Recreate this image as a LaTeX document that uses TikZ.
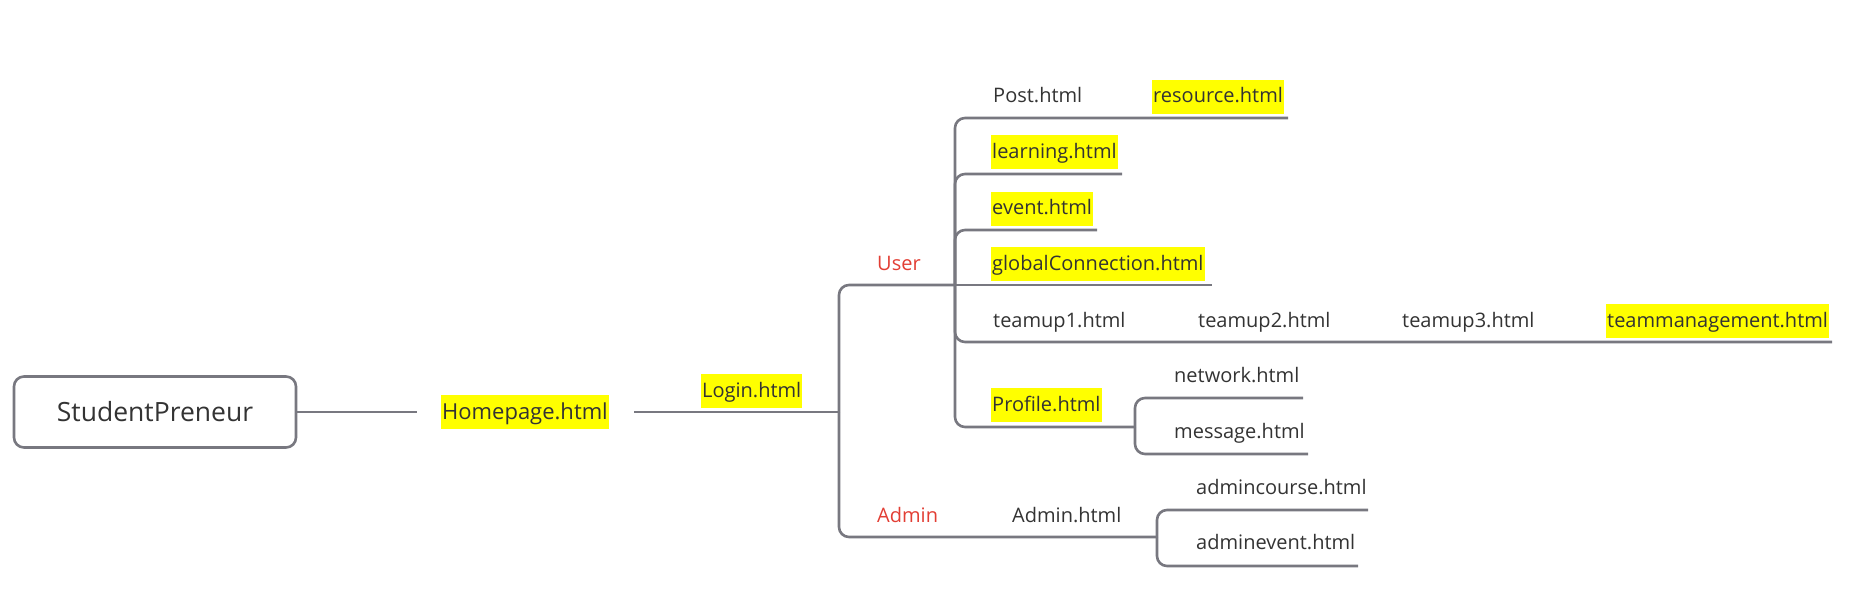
\documentclass[tikz,border=0pt]{standalone}
\usepackage{fontspec}
\setmainfont{Open Sans}
\definecolor{lc}{RGB}{120,120,128}
\definecolor{tc}{RGB}{51,51,51}
\definecolor{rc}{RGB}{226,62,52}
\definecolor{hly}{RGB}{255,255,0}
\begin{document}
\begin{tikzpicture}[x=1pt,y=-1pt,
  conn/.style={draw=lc, line width=2.6pt, rounded corners=10pt},
  lbl/.style={anchor=west, inner xsep=1pt, inner ysep=0pt, minimum height=34pt,
    text height=15pt, text depth=3pt, font=\fontsize{20}{24}\selectfont, text=tc},
  hlbl/.style={lbl, fill=hly},
  rlbl/.style={lbl, text=rc}]
\useasboundingbox (0,0) rectangle (1856,604);

% root
\node[draw=lc, line width=2.6pt, rounded corners=10pt, minimum width=282pt,
  minimum height=71pt, font=\fontsize{26.5}{30}\selectfont, text=tc] (root) at (155,412) {StudentPreneur};
\coordinate (homeIn) at (417,412);
\draw[conn] (root.east) -- (homeIn);

% homepage
\node[hlbl, text height=17pt, font=\fontsize{22}{26}\selectfont] (home) at (441,412) {Homepage.html};
\coordinate (homeOut) at (634,412);
\coordinate (loginJ) at (839,412);
\draw[conn] (homeOut) -- (loginJ);
\node[hlbl] (login) at (701,391) {Login.html};

% user / admin
\coordinate (userJ) at (955,285);
\coordinate (adminJ) at (1157,537);
\draw[conn] (loginJ) |- (userJ);
\draw[conn] (loginJ) |- (adminJ);
\node[rlbl] (user) at (876,264) {User};
\node[rlbl] (admin) at (876,516) {Admin};
\node[lbl] (adminh) at (1011,516) {Admin.html};

% user children
\coordinate (postE) at (1288,118);
\coordinate (learnE) at (1122,174);
\coordinate (eventE) at (1097,230);
\coordinate (globE) at (1212,285);
\coordinate (teamE) at (1832,342);
\coordinate (profJ) at (1135,427);
\draw[conn] (userJ) |- (postE);
\draw[conn] (userJ) |- (learnE);
\draw[conn] (userJ) |- (eventE);
\draw[conn] (userJ) -- (globE);
\draw[conn] (userJ) |- (teamE);
\draw[conn] (userJ) |- (profJ);

\node[lbl] (post) at (992,97) {Post.html};
\node[hlbl] (resource) at (1152,97) {resource.html};
\node[hlbl] (learning) at (991,152.5) {learning.html};
\node[hlbl] (event) at (991,209) {event.html};
\node[hlbl] (glob) at (991,264) {globalConnection.html};
\node[lbl] (team1) at (992,321) {teamup1.html};
\node[lbl] (team2) at (1197,321) {teamup2.html};
\node[lbl] (team3) at (1401,321) {teamup3.html};
\node[hlbl] (teamm) at (1606,321) {teammanagement.html};
\node[hlbl] (profile) at (991,405) {Profile.html};

% profile children
\coordinate (netE) at (1303,398);
\coordinate (msgE) at (1308,454);
\draw[conn] (profJ) |- (netE);
\draw[conn] (profJ) |- (msgE);
\node[lbl] (network) at (1173,376) {network.html};
\node[lbl] (message) at (1173,432) {message.html};

% admin children
\coordinate (acE) at (1368,510);
\coordinate (aeE) at (1358,566);
\draw[conn] (adminJ) |- (acE);
\draw[conn] (adminJ) |- (aeE);
\node[lbl] (admincourse) at (1195,488) {admincourse.html};
\node[lbl] (adminevent) at (1195,543) {adminevent.html};
\end{tikzpicture}
\end{document}
